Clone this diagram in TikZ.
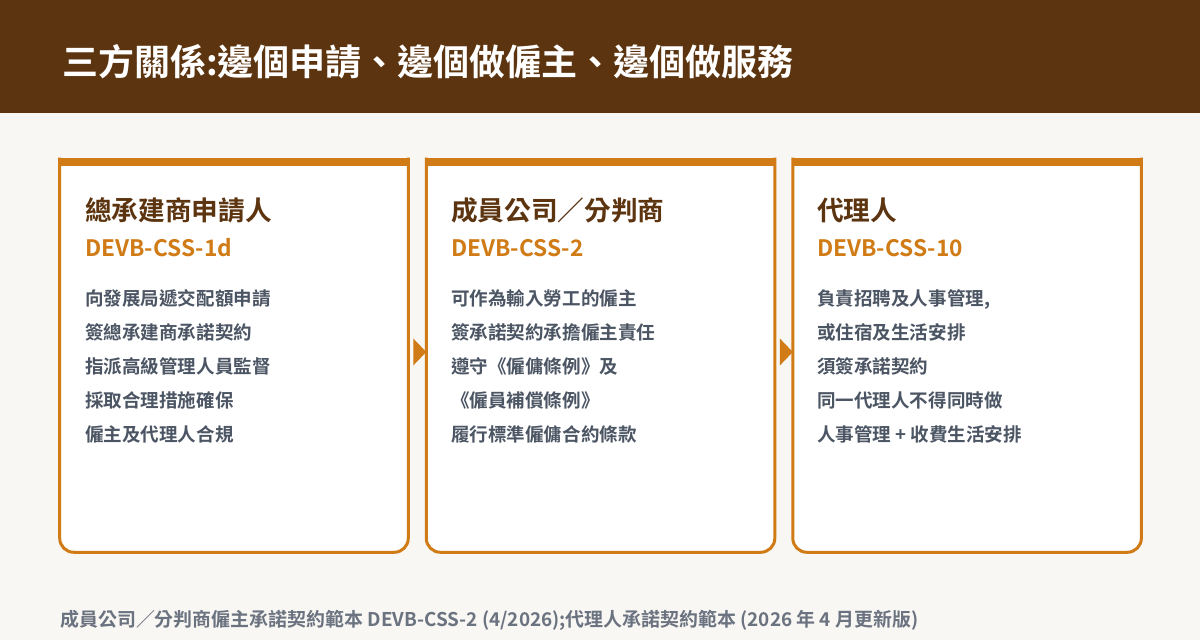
\documentclass[tikz,border=0pt]{standalone}
\usepackage{fontspec}
\setmainfont{Noto Sans CJK TC}[BoldFont={Noto Sans CJK TC Bold}]
\usepackage{xcolor}
\usetikzlibrary{positioning}

\definecolor{headbrown}{HTML}{5C3510}
\definecolor{cardorange}{HTML}{D07B15}
\definecolor{bodygray}{HTML}{4B5563}
\definecolor{notegray}{HTML}{6B7280}
\definecolor{paper}{HTML}{F8F7F3}

\begin{document}
\begin{tikzpicture}[x=0.75pt,y=0.75pt,
                cardbox/.style={minimum width=261pt,minimum height=295.5pt,inner sep=0pt},
                cardline/.style={draw=cardorange,fill=white,line width=2.25pt,rounded corners=10.5pt},
                cardbar/.style={fill=cardorange},
                cardhead/.style={anchor=west,inner sep=0pt,text=headbrown,font=\fontsize{20pt}{23pt}\selectfont\bfseries},
                cardcode/.style={anchor=west,inner sep=0pt,text=cardorange,font=\fontsize{17pt}{20pt}\selectfont\bfseries},
                cardbody/.style={anchor=base west,inner sep=0pt,align=left,text=bodygray,font=\fontsize{13.9pt}{25.5pt}\selectfont\bfseries}]
                \useasboundingbox (0,0) rectangle (1200,640);
                \fill[paper] (0,0) rectangle (1200,640);
                \fill[headbrown] (0,527) rectangle (1200,640);
                \node[anchor=west,inner sep=0pt,text=white,font=\fontsize{27pt}{31pt}\selectfont\bfseries]
                        (title) at (62,578) {三方關係:邊個申請、邊個做僱主、邊個做服務};
                % three cards
                \node[cardbox] (c1) at (234,285) {};
                \node[cardbox,right=13.5pt of c1] (c2) {};
                \node[cardbox,right=13.5pt of c2] (c3) {};
                \filldraw[cardline] (c1.north west) |- (c1.south east) -- (c1.north east);
                \filldraw[cardline] (c2.north west) |- (c2.south east) -- (c2.north east);
                \filldraw[cardline] (c3.north west) |- (c3.south east) -- (c3.north east);
                \fill[cardbar] (c1.north west) rectangle ([yshift=-6pt]c1.north east);
                \fill[cardbar] (c2.north west) rectangle ([yshift=-6pt]c2.north east);
                \fill[cardbar] (c3.north west) rectangle ([yshift=-6pt]c3.north east);
                % arrows between cards
                \fill[cardorange] ([xshift=3.75pt,yshift=12.4pt]c1.east) -- ([xshift=13.5pt,yshift=2.25pt]c1.east)
                        -- ([xshift=3.75pt,yshift=-7.9pt]c1.east) -- cycle;
                \fill[cardorange] ([xshift=3.75pt,yshift=12.4pt]c2.east) -- ([xshift=13.5pt,yshift=2.25pt]c2.east)
                        -- ([xshift=3.75pt,yshift=-7.9pt]c2.east) -- cycle;
                % card texts
                \node[cardhead] (h1) at (85,430) {總承建商申請人};
                \node[cardcode] (k1) at (85,392) {DEVB-CSS-1d};
                \node[cardbody] (b1) at (85,199) {向發展局遞交配額申請\\簽總承建商承諾契約\\指派高級管理人員監督\\採取合理措施確保\\僱主及代理人合規};
                \node[cardhead] (h2) at (451,430) {成員公司／分判商};
                \node[cardcode] (k2) at (451,392) {DEVB-CSS-2};
                \node[cardbody] (b2) at (451,199) {可作為輸入勞工的僱主\\簽承諾契約承擔僱主責任\\遵守《僱傭條例》及\\《僱員補償條例》\\履行標準僱傭合約條款};
                \node[cardhead] (h3) at (817,430) {代理人};
                \node[cardcode] (k3) at (817,392) {DEVB-CSS-10};
                \node[cardbody] (b3) at (817,199) {負責招聘及人事管理,\\或住宿及生活安排\\須簽承諾契約\\同一代理人不得同時做\\人事管理 + 收費生活安排};
                % source line
                \node[anchor=west,inner sep=0pt,text=notegray,font=\fontsize{14.2pt}{17pt}\selectfont\bfseries]
                        (note) at (60,20) {成員公司／分判商僱主承諾契約範本 DEVB-CSS-2 (4/2026);代理人承諾契約範本 (2026 年 4 月更新版)};
            \end{tikzpicture}
\end{document}
